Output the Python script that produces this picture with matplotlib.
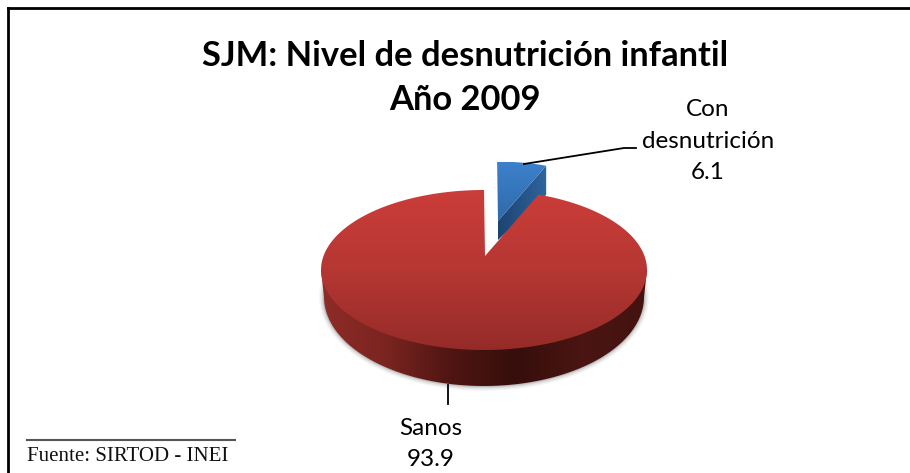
import matplotlib
matplotlib.use('Agg')
import matplotlib.pyplot as plt
import numpy as np
from matplotlib.colors import LinearSegmentedColormap
from matplotlib.patches import Polygon, Ellipse, Rectangle

categories = ['Con\ndesnutrición', 'Sanos']
values = [6.1, 93.9]
title_lines = ['SJM: Nivel de desnutrición infantil', 'Año 2009']
source = 'Fuente: SIRTOD - INEI'

W, H = 910, 473
fig = plt.figure(figsize=(W / 100, H / 100), dpi=100)
ax = fig.add_axes([0, 0, 1, 1])
ax.set_xlim(0, W)
ax.set_ylim(H, 0)
ax.axis('off')

# pie geometry in pixels
cx, cy, rx, ry = 484, 270, 163, 80
apex = (485, 256)
bx, by, brx, bry = 484, 297, 160, 89
blue_apex = (498, 221)
blue_scale = 0.9
tilt = 0.89  # the 3d view narrows the slice angle

sweep = values[0] / sum(values) * 360 * tilt


def arc(a0, a1, x0=cx, y0=cy, a=rx, b=ry, n=200):
    t = np.radians(np.linspace(a0, a1, n))
    return np.column_stack([x0 + a * np.sin(t), y0 - b * np.cos(t)])


def gradient(colors, clip, extent, vertical=True, z=2):
    cmap = LinearSegmentedColormap.from_list('g', colors)
    g = np.linspace(0, 1, 256)
    g = g.reshape(-1, 1) if vertical else g.reshape(1, -1)
    im = ax.imshow(g, cmap=cmap, extent=extent, aspect='auto', zorder=z)
    patch = Polygon(clip, closed=True, transform=ax.transData, fc='none', ec='none')
    ax.add_patch(patch)
    im.set_clip_path(patch)


# soft shadow under the rim, lower half only
shadow_clip = Rectangle((300, 275), 370, 130, transform=ax.transData, fc='none', ec='none')
ax.add_patch(shadow_clip)
for grow, alpha in [(5, 0.06), (3.5, 0.10), (2, 0.14), (1, 0.2)]:
    e = Ellipse((bx, by), 2 * (brx + grow), 2 * (bry + grow), fc='#606060',
                ec='none', alpha=alpha, zorder=1)
    ax.add_patch(e)
    e.set_clip_path(shadow_clip)

# blue slice, pulled out of the pie
blue_arc = np.array(blue_apex) + blue_scale * (arc(0, sweep) - np.array(apex))
wall = np.array([blue_arc[-1], blue_arc[-1] + [0, 29], [blue_apex[0], 240], blue_apex])
gradient(['#1d4470', '#2f659f'], wall, (498, 548, 241, 166), vertical=False, z=2)
face = np.vstack([[blue_apex], blue_arc])
gradient(['#3d80cc', '#2f6aa8'], face, (497, 548, 222, 162), z=3)

# red rim
lower = arc(90, 270, bx, by, brx, bry)
rim = np.vstack([[[cx + rx, cy]], lower, [[cx - rx, cy]]])
gradient(['#8e2c28', '#7a2420', '#4f1512', '#360e0c', '#4a1512', '#431310'], rim,
         (321, 647, 390, 260), vertical=False, z=4)

# red top
red_top = np.vstack([[apex], arc(sweep, 360)])
gradient(['#cb3d39', '#b63733', '#952b28'], red_top, (320, 648, 350, 189), z=5)

# leader lines and labels
ax.plot([524, 624, 636], [164, 148, 148], color='black', lw=1.3, zorder=6)
ax.plot([448, 448], [385, 404], color='black', lw=1.3, zorder=6)
ax.text(708, 141, categories[0] + '\n' + str(values[0]), ha='center', va='center',
        family='Lato', fontsize=17.5, linespacing=1.6, zorder=7)
ax.text(431, 444, categories[1] + '\n' + str(values[1]), ha='center', va='center',
        family='Lato', fontsize=17.5, linespacing=1.6, zorder=7)

ax.text(465, 56, title_lines[0], ha='center', va='center', family='Lato',
        fontweight='bold', fontsize=24.8, zorder=7)
ax.text(465, 100, title_lines[1], ha='center', va='center', family='Lato',
        fontweight='bold', fontsize=24.8, zorder=7)

# source note
ax.plot([27, 235], [439.5, 439.5], color='#555555', lw=1.5, zorder=7)
ax.text(27, 456, source, ha='left', va='center', family='Liberation Serif',
        fontsize=15, color='#111111', zorder=7)

# frame: left and top only are inside the crop
ax.plot([8, 8], [H, 8], color='black', lw=2, zorder=8)
ax.plot([8, W], [8, 8], color='black', lw=2, zorder=8)

ax.set_xlim(0, W)
ax.set_ylim(H, 0)
fig.savefig('out.png', dpi=100)
